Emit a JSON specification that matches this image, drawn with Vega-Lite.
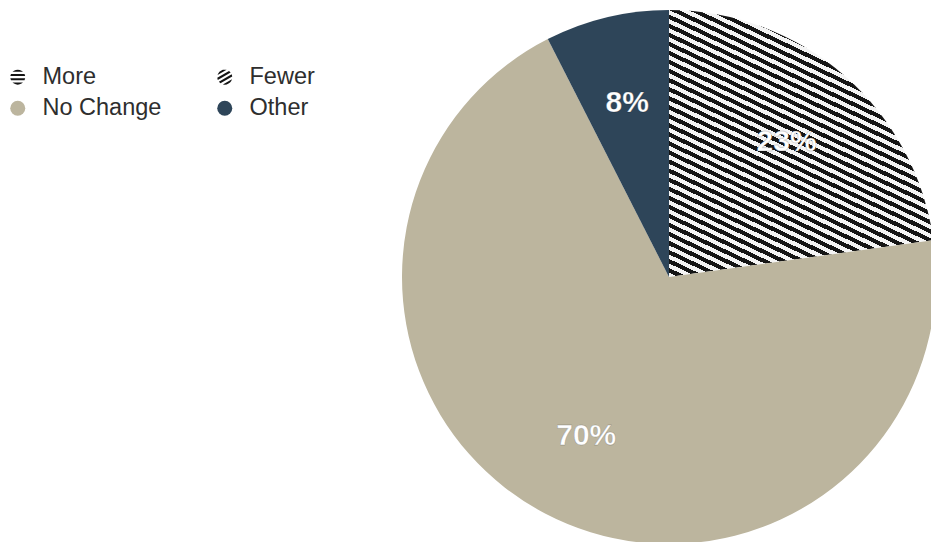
{
  "$schema": "https://vega.github.io/schema/vega-lite/v6.json",
  "width": 1338,
  "height": 554,
  "padding": 0,
  "autosize": {"type": "none"},
  "background": "#ffffff",
  "config": {"view": {"stroke": null}, "font": "Liberation Sans"},
  "data": {
    "values": [
      {"category": "More", "value": 0, "label": ""},
      {"category": "Fewer", "value": 22.8, "label": "23%"},
      {"category": "No Change", "value": 69.7, "label": "70%"},
      {"category": "Other", "value": 7.5, "label": "8%"}
    ]
  },
  "layer": [
    {
      "mark": {"type": "point", "filled": true, "opacity": 0, "size": 1},
      "encoding": {
        "color": {
          "field": "category",
          "type": "nominal",
          "scale": {
            "domain": ["More", "Fewer", "No Change", "Other"],
            "range": ["#141414", "#141414", "#bcb59e", "#2e4559"]
          },
          "legend": {
            "title": null,
            "orient": "none",
            "legendX": 6,
            "legendY": 65,
            "direction": "horizontal",
            "columns": 2,
            "columnPadding": 51,
            "rowPadding": 6.5,
            "padding": 0,
            "symbolSize": 225,
            "symbolOpacity": 1,
            "symbolStrokeWidth": 0,
            "labelFont": "Liberation Sans",
            "labelFontSize": 23.5,
            "labelColor": "#2e2e2e",
            "labelOffset": 13,
            "labelLimit": 300
          }
        },
        "shape": {
          "field": "category",
          "type": "nominal",
          "scale": {
            "domain": ["More", "Fewer", "No Change", "Other"],
            "range": [
              "M-0.7,-0.714L-0.5,-0.866L-0.26,-0.966L0,-1L0.26,-0.966L0.5,-0.866L0.7,-0.714Z M-0.903,-0.429L0.903,-0.429L0.99,-0.143L-0.99,-0.143Z M-0.99,0.143L0.99,0.143L0.903,0.429L-0.903,0.429Z M-0.7,0.714L0.7,0.714L0.5,0.866L0.26,0.966L0,1L-0.26,0.966L-0.5,0.866Z",
              "M-0.963,-0.268L-0.866,-0.5L-0.708,-0.707L-0.5,-0.866L-0.258,-0.967L0,-1L0.249,-0.968Z M-0.997,0.08L0.568,-0.823L0.786,-0.619L-0.929,0.371Z M-0.786,0.619L0.929,-0.371L0.997,-0.08L-0.568,0.823Z M0.963,0.268L0.866,0.5L0.708,0.707L0.5,0.866L0.258,0.967L0,1L-0.249,0.968Z",
              "circle",
              "circle"
            ]
          },
          "legend": {
            "title": null,
            "orient": "none",
            "legendX": 6,
            "legendY": 65,
            "direction": "horizontal",
            "columns": 2,
            "columnPadding": 51,
            "rowPadding": 6.5,
            "padding": 0,
            "symbolSize": 225,
            "symbolOpacity": 1,
            "symbolStrokeWidth": 0,
            "labelFont": "Liberation Sans",
            "labelFontSize": 23.5,
            "labelColor": "#2e2e2e",
            "labelOffset": 13,
            "labelLimit": 300
          }
        }
      }
    },
    {
      "mark": {"type": "arc", "outerRadius": 267},
      "encoding": {
        "theta": {"field": "value", "type": "quantitative", "stack": true},
        "fill": {
          "field": "category",
          "type": "nominal",
          "legend": null,
          "condition": {
            "test": "datum.category === 'Fewer'",
            "value": {"gradient": "linear", "x1": 0.47, "y1": 0, "x2": 0, "y2": 1, "stops": [
                {"offset": 0, "color": "#151515"}, {"offset": 0.0139, "color": "#151515"}, {"offset": 0.0139, "color": "#f4f4f4"}, {"offset": 0.0278, "color": "#f4f4f4"},
                {"offset": 0.0278, "color": "#151515"}, {"offset": 0.0417, "color": "#151515"}, {"offset": 0.0417, "color": "#f4f4f4"}, {"offset": 0.0556, "color": "#f4f4f4"},
                {"offset": 0.0556, "color": "#151515"}, {"offset": 0.0694, "color": "#151515"}, {"offset": 0.0694, "color": "#f4f4f4"}, {"offset": 0.0833, "color": "#f4f4f4"},
                {"offset": 0.0833, "color": "#151515"}, {"offset": 0.0972, "color": "#151515"}, {"offset": 0.0972, "color": "#f4f4f4"}, {"offset": 0.1111, "color": "#f4f4f4"},
                {"offset": 0.1111, "color": "#151515"}, {"offset": 0.125, "color": "#151515"}, {"offset": 0.125, "color": "#f4f4f4"}, {"offset": 0.1389, "color": "#f4f4f4"},
                {"offset": 0.1389, "color": "#151515"}, {"offset": 0.1528, "color": "#151515"}, {"offset": 0.1528, "color": "#f4f4f4"}, {"offset": 0.1667, "color": "#f4f4f4"},
                {"offset": 0.1667, "color": "#151515"}, {"offset": 0.1806, "color": "#151515"}, {"offset": 0.1806, "color": "#f4f4f4"}, {"offset": 0.1944, "color": "#f4f4f4"},
                {"offset": 0.1944, "color": "#151515"}, {"offset": 0.2083, "color": "#151515"}, {"offset": 0.2083, "color": "#f4f4f4"}, {"offset": 0.2222, "color": "#f4f4f4"},
                {"offset": 0.2222, "color": "#151515"}, {"offset": 0.2361, "color": "#151515"}, {"offset": 0.2361, "color": "#f4f4f4"}, {"offset": 0.25, "color": "#f4f4f4"},
                {"offset": 0.25, "color": "#151515"}, {"offset": 0.2639, "color": "#151515"}, {"offset": 0.2639, "color": "#f4f4f4"}, {"offset": 0.2778, "color": "#f4f4f4"},
                {"offset": 0.2778, "color": "#151515"}, {"offset": 0.2917, "color": "#151515"}, {"offset": 0.2917, "color": "#f4f4f4"}, {"offset": 0.3056, "color": "#f4f4f4"},
                {"offset": 0.3056, "color": "#151515"}, {"offset": 0.3194, "color": "#151515"}, {"offset": 0.3194, "color": "#f4f4f4"}, {"offset": 0.3333, "color": "#f4f4f4"},
                {"offset": 0.3333, "color": "#151515"}, {"offset": 0.3472, "color": "#151515"}, {"offset": 0.3472, "color": "#f4f4f4"}, {"offset": 0.3611, "color": "#f4f4f4"},
                {"offset": 0.3611, "color": "#151515"}, {"offset": 0.375, "color": "#151515"}, {"offset": 0.375, "color": "#f4f4f4"}, {"offset": 0.3889, "color": "#f4f4f4"},
                {"offset": 0.3889, "color": "#151515"}, {"offset": 0.4028, "color": "#151515"}, {"offset": 0.4028, "color": "#f4f4f4"}, {"offset": 0.4167, "color": "#f4f4f4"},
                {"offset": 0.4167, "color": "#151515"}, {"offset": 0.4306, "color": "#151515"}, {"offset": 0.4306, "color": "#f4f4f4"}, {"offset": 0.4444, "color": "#f4f4f4"},
                {"offset": 0.4444, "color": "#151515"}, {"offset": 0.4583, "color": "#151515"}, {"offset": 0.4583, "color": "#f4f4f4"}, {"offset": 0.4722, "color": "#f4f4f4"},
                {"offset": 0.4722, "color": "#151515"}, {"offset": 0.4861, "color": "#151515"}, {"offset": 0.4861, "color": "#f4f4f4"}, {"offset": 0.5, "color": "#f4f4f4"},
                {"offset": 0.5, "color": "#151515"}, {"offset": 0.5139, "color": "#151515"}, {"offset": 0.5139, "color": "#f4f4f4"}, {"offset": 0.5278, "color": "#f4f4f4"},
                {"offset": 0.5278, "color": "#151515"}, {"offset": 0.5417, "color": "#151515"}, {"offset": 0.5417, "color": "#f4f4f4"}, {"offset": 0.5556, "color": "#f4f4f4"},
                {"offset": 0.5556, "color": "#151515"}, {"offset": 0.5694, "color": "#151515"}, {"offset": 0.5694, "color": "#f4f4f4"}, {"offset": 0.5833, "color": "#f4f4f4"},
                {"offset": 0.5833, "color": "#151515"}, {"offset": 0.5972, "color": "#151515"}, {"offset": 0.5972, "color": "#f4f4f4"}, {"offset": 0.6111, "color": "#f4f4f4"},
                {"offset": 0.6111, "color": "#151515"}, {"offset": 0.625, "color": "#151515"}, {"offset": 0.625, "color": "#f4f4f4"}, {"offset": 0.6389, "color": "#f4f4f4"},
                {"offset": 0.6389, "color": "#151515"}, {"offset": 0.6528, "color": "#151515"}, {"offset": 0.6528, "color": "#f4f4f4"}, {"offset": 0.6667, "color": "#f4f4f4"},
                {"offset": 0.6667, "color": "#151515"}, {"offset": 0.6806, "color": "#151515"}, {"offset": 0.6806, "color": "#f4f4f4"}, {"offset": 0.6944, "color": "#f4f4f4"},
                {"offset": 0.6944, "color": "#151515"}, {"offset": 0.7083, "color": "#151515"}, {"offset": 0.7083, "color": "#f4f4f4"}, {"offset": 0.7222, "color": "#f4f4f4"},
                {"offset": 0.7222, "color": "#151515"}, {"offset": 0.7361, "color": "#151515"}, {"offset": 0.7361, "color": "#f4f4f4"}, {"offset": 0.75, "color": "#f4f4f4"},
                {"offset": 0.75, "color": "#151515"}, {"offset": 0.7639, "color": "#151515"}, {"offset": 0.7639, "color": "#f4f4f4"}, {"offset": 0.7778, "color": "#f4f4f4"},
                {"offset": 0.7778, "color": "#151515"}, {"offset": 0.7917, "color": "#151515"}, {"offset": 0.7917, "color": "#f4f4f4"}, {"offset": 0.8056, "color": "#f4f4f4"},
                {"offset": 0.8056, "color": "#151515"}, {"offset": 0.8194, "color": "#151515"}, {"offset": 0.8194, "color": "#f4f4f4"}, {"offset": 0.8333, "color": "#f4f4f4"},
                {"offset": 0.8333, "color": "#151515"}, {"offset": 0.8472, "color": "#151515"}, {"offset": 0.8472, "color": "#f4f4f4"}, {"offset": 0.8611, "color": "#f4f4f4"},
                {"offset": 0.8611, "color": "#151515"}, {"offset": 0.875, "color": "#151515"}, {"offset": 0.875, "color": "#f4f4f4"}, {"offset": 0.8889, "color": "#f4f4f4"},
                {"offset": 0.8889, "color": "#151515"}, {"offset": 0.9028, "color": "#151515"}, {"offset": 0.9028, "color": "#f4f4f4"}, {"offset": 0.9167, "color": "#f4f4f4"},
                {"offset": 0.9167, "color": "#151515"}, {"offset": 0.9306, "color": "#151515"}, {"offset": 0.9306, "color": "#f4f4f4"}, {"offset": 0.9444, "color": "#f4f4f4"},
                {"offset": 0.9444, "color": "#151515"}, {"offset": 0.9583, "color": "#151515"}, {"offset": 0.9583, "color": "#f4f4f4"}, {"offset": 0.9722, "color": "#f4f4f4"},
                {"offset": 0.9722, "color": "#151515"}, {"offset": 0.9861, "color": "#151515"}, {"offset": 0.9861, "color": "#f4f4f4"}, {"offset": 1, "color": "#f4f4f4"}
              ]}
          },
          "scale": {
            "domain": ["Fewer", "More", "No Change", "Other"],
            "range": ["#888888", "#888888", "#bcb59e", "#2e4559"]
          }
        }
      }
    },
    {
      "mark": {"type": "text", "radius": 179, "font": "Liberation Sans", "fontSize": 30, "fontWeight": "bold", "color": "#ffffff", "stroke": "#000000", "strokeOpacity": 0.18, "strokeWidth": 1},
      "encoding": {
        "theta": {"field": "value", "type": "quantitative", "stack": true},
        "detail": {"field": "category", "type": "nominal"},
        "text": {"field": "label", "type": "nominal"}
      }
    }
  ]
}
